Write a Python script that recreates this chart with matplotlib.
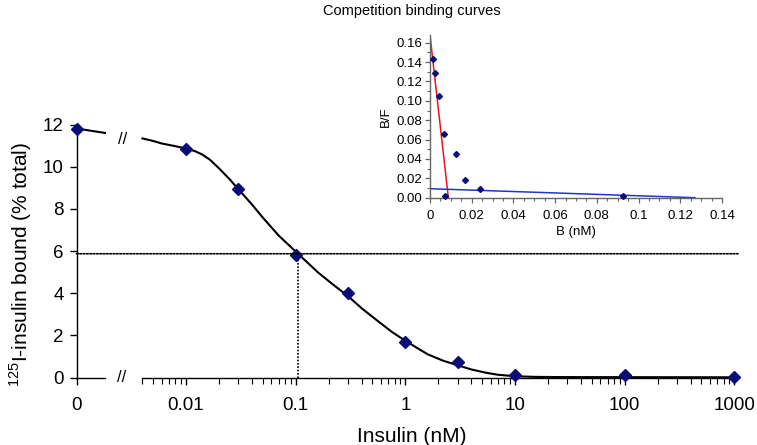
import matplotlib
matplotlib.use("Agg")
import matplotlib.pyplot as plt
from matplotlib.patches import ConnectionPatch
from matplotlib.ticker import FixedLocator, LogLocator, NullFormatter, FuncFormatter, MultipleLocator

plt.rcParams['font.family'] = ['Liberation Sans', 'DejaVu Sans']
plt.rcParams['mathtext.fontset'] = 'custom'
plt.rcParams['mathtext.rm'] = 'Liberation Sans'

# ---- data: main competition curve ----
zero_conc = [0.0]
zero_bound = [11.81]
insulin_nM = [0.01, 0.03, 0.1, 0.3, 1, 3, 10, 100, 1000]
bound_pct = [10.82, 8.93, 5.79, 4.01, 1.70, 0.75, 0.13, 0.13, 0.02]

# fitted curve
zero_curve_x = [0.0, 0.001]
zero_curve_y = [11.81, 11.60]
curve_x = [0.004, 0.005, 0.006, 0.008, 0.01, 0.012, 0.014, 0.0165, 0.02, 0.025,
           0.03, 0.04, 0.05, 0.07, 0.105, 0.16, 0.22, 0.3, 0.4, 0.57,
           0.75, 1, 1.3, 1.6, 2.2, 3, 4, 5.5, 7, 10, 15, 25, 1000]
curve_y = [11.34, 11.22, 11.10, 10.97, 10.86, 10.74, 10.58, 10.33, 9.92, 9.40,
           8.93, 8.20, 7.59, 6.73, 5.87, 4.98, 4.40, 3.86, 3.28, 2.65,
           2.17, 1.74, 1.38, 1.10, 0.80, 0.58, 0.38, 0.22, 0.13, 0.06, 0.03, 0.02, 0.01]

half_bound = 5.87
ic50 = 0.105

x_ticks = [0.01, 0.1, 1, 10, 100, 1000]
y_ticks = [0, 2, 4, 6, 8, 10, 12]

# ---- data: Scatchard inset ----
scat_B = [0.0016, 0.0024, 0.0043, 0.0066, 0.0125, 0.0168, 0.024, 0.0070, 0.0924]
scat_BF = [0.1432, 0.1287, 0.1055, 0.0656, 0.0452, 0.0183, 0.0093, 0.0018, 0.0018]
red_line_B = [0.0, 0.0088]
red_line_BF = [0.168, 0.0]
blue_line_B = [0.0, 0.127]
blue_line_BF = [0.0093, 0.0]

W, H = 757, 445
fig = plt.figure(figsize=(W / 100, H / 100), dpi=100)

def fx(px):
    return px / W

def fy(py):
    return (H - py) / H

y_top_px, y_bot_px = 124.5, 377.5
ax_h = (y_bot_px - y_top_px) / H

# left (zero) axes
ax0 = fig.add_axes([fx(76.5), fy(y_bot_px), fx(105) - fx(76.5), ax_h])
# log axes
ax1 = fig.add_axes([fx(141.7), fy(y_bot_px), fx(738) - fx(141.7), ax_h])

navy = '#0c0c78'
for ax in (ax0, ax1):
    ax.set_ylim(0, 12)
    ax.spines['top'].set_visible(False)
    ax.spines['right'].set_visible(False)
    ax.set_facecolor('none')
    for s in ax.spines.values():
        s.set_linewidth(1.0)

ax0.set_xlim(0, 0.001)
ax0.set_xticks([0])
ax0.set_xticklabels(['0'])
ax0.set_yticks(y_ticks)
ax0.set_yticklabels([str(v) for v in y_ticks])
ax0.tick_params(axis='both', direction='out', length=5, width=1.0, labelsize=13.5)
ax0.tick_params(axis='x', pad=9)
ax0.tick_params(axis='y', pad=4)

ax1.set_xscale('log')
ax1.set_xlim(0.00394, 1080)
ax1.spines['left'].set_visible(False)
ax1.set_yticks([])
ax1.xaxis.set_major_locator(FixedLocator(x_ticks))
ax1.xaxis.set_major_formatter(FuncFormatter(lambda v, p: '%g' % v))
ax1.xaxis.set_minor_locator(LogLocator(base=10, subs=range(2, 10), numticks=20))
ax1.xaxis.set_minor_formatter(NullFormatter())
ax1.tick_params(axis='x', which='major', direction='out', length=5, width=1.0,
                labelsize=13.5, pad=9)
ax1.tick_params(axis='x', which='minor', direction='out', length=4, width=0.8)

# curve
ax0.plot(zero_curve_x, zero_curve_y, color='black', lw=1.5, clip_on=False, zorder=3)
ax1.plot(curve_x, curve_y, color='black', lw=1.5, clip_on=False, zorder=3,
         solid_joinstyle='round')

# points
ax0.plot(zero_conc, zero_bound, 'D', color=navy, ms=6, mec=navy, clip_on=False, zorder=4)
ax1.plot(insulin_nM, bound_pct, 'D', color=navy, ms=6, mec=navy, clip_on=False, zorder=4)

# dotted reference lines
dot = (0, (1, 1))
con = ConnectionPatch(xyA=(0, half_bound), coordsA=ax0.transData,
                      xyB=(1.0, half_bound), coordsB=ax1.get_yaxis_transform(),
                      color='black', lw=1.2, linestyle=dot, zorder=2)
fig.add_artist(con)
ax1.plot([ic50, ic50], [0, half_bound], color='black', lw=1.2,
         linestyle=dot, zorder=2)

# break marks
fig.text(fx(122), fy(378), '//', ha='center', va='center', fontsize=12)
fig.text(fx(123), fy(139), '//', ha='center', va='center', fontsize=12)

fig.text(fx(21), fy(264), r'$^{125}$I-insulin bound (% total)', rotation=90,
         ha='center', va='center', fontsize=15)
fig.text(fx(412), fy(436), 'Insulin (nM)', ha='center', va='center', fontsize=15)
fig.text(fx(412), fy(11), 'Competition binding curves', ha='center', va='center',
         fontsize=10.5)

# ---- inset ----
axi = fig.add_axes([fx(430), fy(197.7), fx(722) - fx(430), (197.7 - 35) / H])
axi.set_facecolor('none')
axi.set_xlim(0, 0.14)
axi.set_ylim(0, 0.168)
gray = '#666666'
for side in ('top', 'right'):
    axi.spines[side].set_visible(False)
for side in ('left', 'bottom'):
    axi.spines[side].set_color(gray)
    axi.spines[side].set_linewidth(1.0)
axi.xaxis.set_major_locator(MultipleLocator(0.02))
axi.xaxis.set_minor_locator(MultipleLocator(0.005))
axi.yaxis.set_major_locator(FixedLocator([0, 0.02, 0.04, 0.06, 0.08, 0.10, 0.12, 0.14, 0.16]))
axi.yaxis.set_minor_locator(MultipleLocator(0.01))
axi.xaxis.set_major_formatter(FuncFormatter(lambda v, p: '%g' % round(v, 3)))
axi.yaxis.set_major_formatter(FuncFormatter(lambda v, p: '%.2f' % v))
axi.tick_params(which='major', direction='out', length=3.5, width=0.9, color=gray,
                labelsize=9.5, pad=2)
axi.tick_params(which='minor', direction='out', length=2.5, width=0.8, color=gray)
axi.tick_params(axis='x', pad=5)
axi.plot(red_line_B, red_line_BF, color='#e8141e', lw=1.1, zorder=2)
axi.plot(blue_line_B, blue_line_BF, color='#2036d0', lw=1.1, zorder=2)
axi.plot(scat_B, scat_BF, 'D', color=navy, ms=3, mec=navy, lw=0, clip_on=False, zorder=3)
axi.set_xlabel('B (nM)', fontsize=9.5, labelpad=3)
axi.set_ylabel('B/F', fontsize=9.5, labelpad=3)

fig.savefig('out.png', dpi=100)
